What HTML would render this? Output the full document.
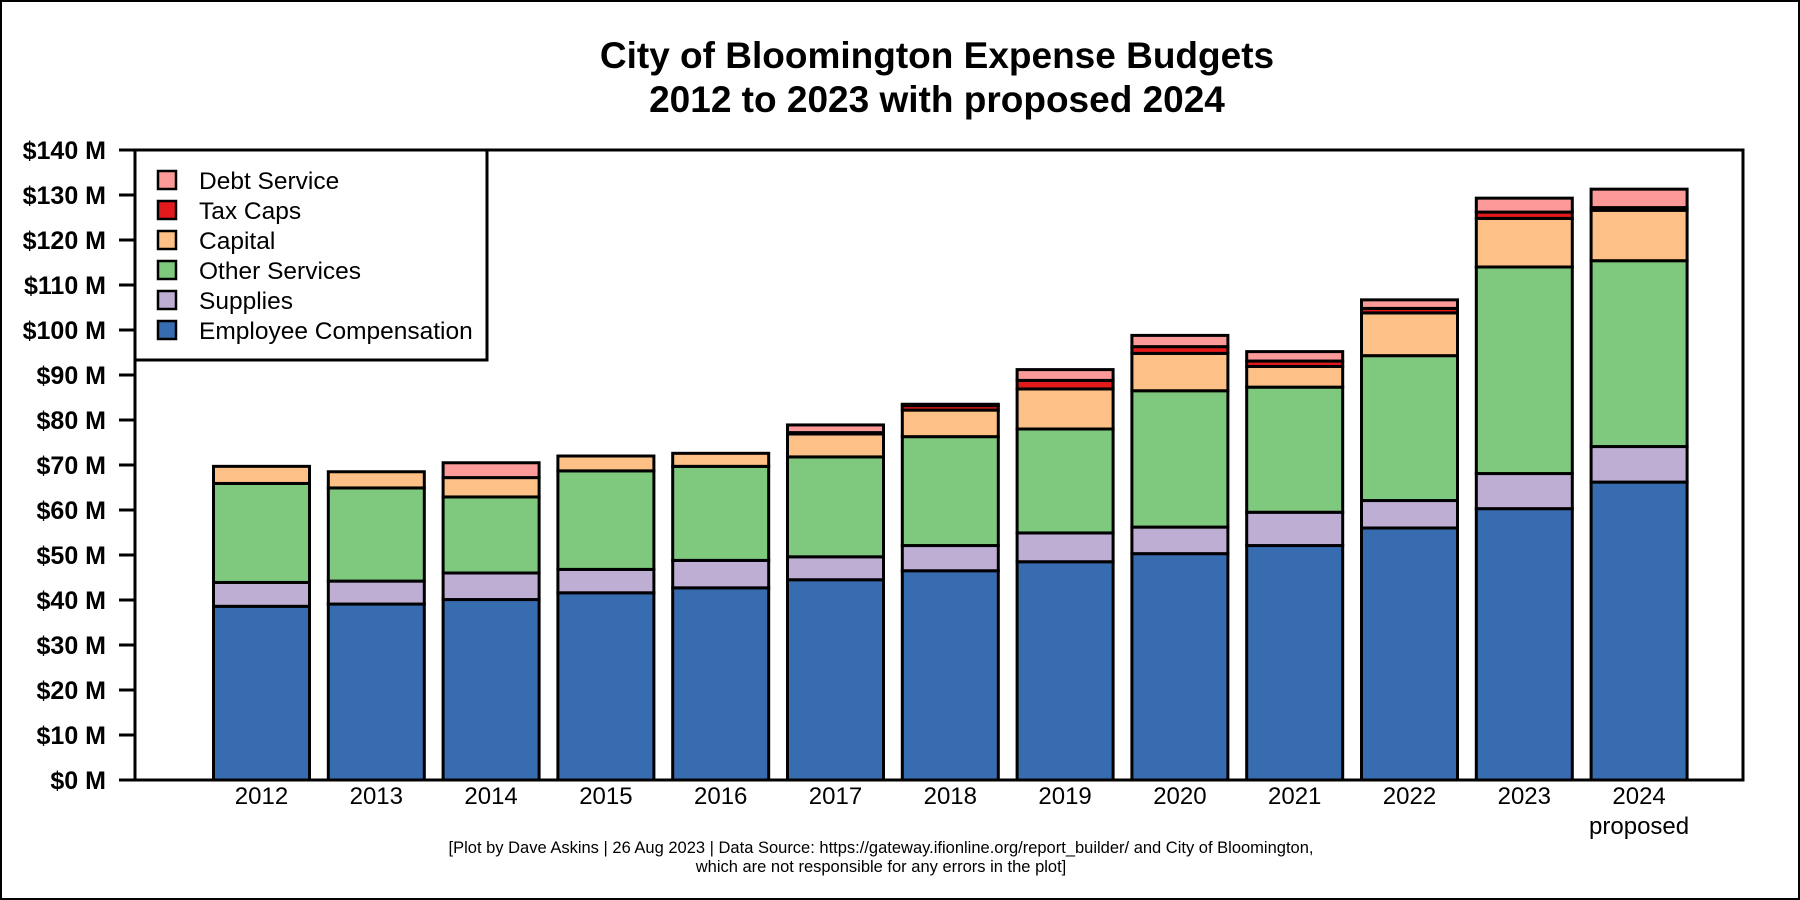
<!DOCTYPE html>
<html><head><meta charset="utf-8">
<style>
html,body{margin:0;padding:0;background:#fff;}
svg{display:block;font-family:"Liberation Sans",Arial,sans-serif;}
</style></head>
<body>
<svg id="chart" width="1800" height="900" viewBox="0 0 1800 900">
<rect x="1" y="1" width="1798" height="898" fill="#fff" stroke="#000" stroke-width="2"/>
<text x="937" y="68" text-anchor="middle" font-size="37" font-weight="bold">City of Bloomington Expense Budgets</text>
<text x="937" y="112" text-anchor="middle" font-size="37" font-weight="bold">2012 to 2023 with proposed 2024</text>
<g id="plot"></g>
<text x="881" y="853" text-anchor="middle" font-size="16.5">[Plot by Dave Askins | 26 Aug 2023 | Data Source: https://gateway.ifionline.org/report_builder/ and City of Bloomington,</text>
<text x="881" y="872" text-anchor="middle" font-size="16.5">which are not responsible for any errors in the plot]</text>
</svg>
<script>
const years = ["2012","2013","2014","2015","2016","2017","2018","2019","2020","2021","2022","2023","2024"];
const employeeComp = [38.6,39.1,40.1,41.6,42.7,44.5,46.5,48.5,50.3,52.1,56.0,60.3,66.2];
const supplies = [5.3,5.1,5.9,5.2,6.1,5.1,5.6,6.4,5.9,7.4,6.1,7.8,7.9];
const otherServices = [22.0,20.7,16.9,21.9,20.9,22.2,24.2,23.1,30.3,27.8,32.2,45.9,41.3];
const capital = [3.8,3.6,4.3,3.3,2.9,5.1,5.9,8.9,8.3,4.6,9.5,10.8,11.2];
const taxCaps = [0,0,0,0,0,0.3,1.0,1.9,1.5,1.2,1.0,1.4,0.6];
const debtService = [0,0,3.3,0,0,1.7,0.3,2.4,2.5,2.1,1.9,3.1,4.1];
const yTicks = [0,10,20,30,40,50,60,70,80,90,100,110,120,130,140];
const yTickLabels = ["$0 M","$10 M","$20 M","$30 M","$40 M","$50 M","$60 M","$70 M","$80 M","$90 M","$100 M","$110 M","$120 M","$130 M","$140 M"];

const NS="http://www.w3.org/2000/svg";
const g=document.getElementById('plot');
const L=135,R=1743,T=150,B=780,YMAX=140;
const y=v=>B-(v/YMAX)*(B-T);
const bw=96, step=114.8, x0=213.5;
const xLeft=i=>x0+i*step;
function mk(tag,attrs){const e=document.createElementNS(NS,tag);for(const k in attrs)e.setAttribute(k,attrs[k]);g.appendChild(e);return e;}

const series=[
 {name:"employee-compensation",vals:employeeComp,color:"#386cb0"},
 {name:"supplies",vals:supplies,color:"#beaed4"},
 {name:"other-services",vals:otherServices,color:"#7fc97f"},
 {name:"capital",vals:capital,color:"#fdc086"},
 {name:"tax-caps",vals:taxCaps,color:"#e31a1c"},
 {name:"debt-service",vals:debtService,color:"#fb9a99"}
];
years.forEach((yr,i)=>{
  let base=0;
  series.forEach(s=>{
    const v=s.vals[i];
    if(v>0){
      const r=mk('rect',{x:xLeft(i),y:y(base+v),width:bw,height:y(base)-y(base+v),fill:s.color,stroke:"#000","stroke-width":3});
      
      
    }
    base+=v;
  });
  const t=mk('text',{x:xLeft(i)+bw/2,y:804,"text-anchor":"middle","font-size":24});
  t.textContent=yr;
  
  
});
const p=mk('text',{x:xLeft(12)+bw/2,y:834,"text-anchor":"middle","font-size":24});
p.textContent="proposed";



yTicks.forEach((v,i)=>{
  const l=mk('line',{x1:L-16,x2:L,y1:y(v),y2:y(v),stroke:"#000","stroke-width":3});
  
  
  const t=mk('text',{x:106,y:y(v)+9,"text-anchor":"end","font-size":25,"font-weight":"bold"});
  t.textContent=yTickLabels[i];
  
  
});
const frame=mk('rect',{x:L,y:T,width:R-L,height:B-T,fill:"none",stroke:"#000","stroke-width":3});



const leg=mk('rect',{x:L,y:T,width:352,height:210,fill:"#fff",stroke:"#000","stroke-width":3});


const legItems=[["Debt Service","#fb9a99"],["Tax Caps","#e31a1c"],["Capital","#fdc086"],["Other Services","#7fc97f"],["Supplies","#beaed4"],["Employee Compensation","#386cb0"]];
legItems.forEach((it,i)=>{
  const cy=180+i*30;
  const s=mk('rect',{x:158,y:cy-9,width:18,height:18,fill:it[1],stroke:"#000","stroke-width":2.5});
  
  
  const t=mk('text',{x:199,y:cy+9,"font-size":24.5});
  t.textContent=it[0];
  
  
});
</script>
</body></html>
